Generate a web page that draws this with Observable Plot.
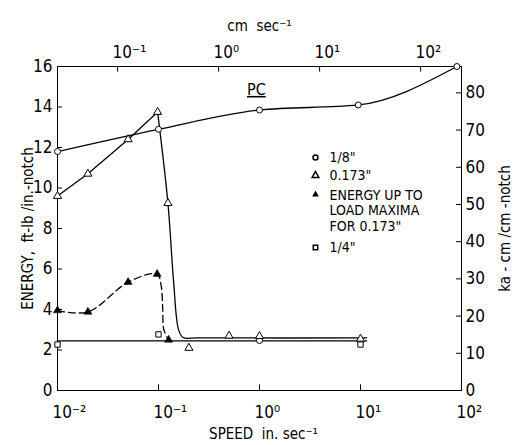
<!DOCTYPE html>
<html><head><meta charset="utf-8">
<script src="https://cdn.jsdelivr.net/npm/d3@7"></script>
<script src="https://cdn.jsdelivr.net/npm/@observablehq/plot@0.6"></script>
<style>
body{margin:0;background:#fff;}
#chart{width:515px;height:445px;}
</style></head><body><div id="chart"></div>
<script>
// ---- data (speed in in/sec, energy in ft-lb/in-notch)
const circleSpeed = [0.01, 0.1, 1, 9.5, 90];
const circleEnergy = [11.8, 12.9, 13.85, 14.1, 16.0];
const circleLowSpeed = [1, 10];
const circleLowEnergy = [2.47, 2.47];
const triSpeed = [0.01, 0.02, 0.05, 0.098, 0.124, 0.2, 0.5, 1, 10];
const triEnergy = [9.6, 10.7, 12.4, 13.75, 9.25, 2.1, 2.7, 2.68, 2.55];
const loadMaxSpeed = [0.01, 0.02, 0.05, 0.097, 0.126];
const loadMaxEnergy = [3.95, 3.88, 5.35, 5.75, 2.5];
const quarterSpeed = [0.01, 0.1, 10];
const quarterEnergy = [2.27, 2.77, 2.27];
// hand-drawn curves
const triRiseSpeed = [0.01, 0.02, 0.05, 0.098];
const triRiseEnergy = [9.6, 10.7, 12.4, 13.75];
const triFallSpeed = [0.098, 0.124, 0.141, 0.158, 0.175, 0.25, 11.5];
const triFallEnergy = [13.75, 9.25, 5.4, 3.0, 2.62, 2.6, 2.6];
const dashSpeed = [0.01, 0.02, 0.05, 0.097, 0.106, 0.110, 0.113, 0.126];
const dashEnergy = [3.95, 3.88, 5.35, 5.75, 5.2, 4.1, 3.0, 2.5];
const quarterLineSpeed = [0.01, 11.5];
const quarterLineEnergy = [2.45, 2.45];
// axes
const speedTicks = [0.01, 0.1, 1, 10, 100];
const cmTicks = [0.1, 1, 10, 100];
const energyTicks = [0, 2, 4, 6, 8, 10, 12, 14, 16];
const kgTicks = [0, 10, 20, 30, 40, 50, 60, 70, 80];
const legendLabels = ['1/8"', '0.173"', 'ENERGY UP TO\nLOAD MAXIMA\nFOR 0.173"', '1/4"'];
const pcLabel = ["PC"];
const pcPos = {x: 0.93, y: 14.85};

const C = 5.443; // ft-lb/in -> kg-cm/cm
const IN2CM = 2.54;
const supMap = {"-": "\u207B", "0": "\u2070", "1": "\u00B9", "2": "\u00B2", "3": "\u00B3"};
const pow10 = e => "10" + String(e).split("").map(c => supMap[c]).join("");

const pts = (xs, ys) => xs.map((x, i) => ({x, y: ys[i]}));
const font = "'DejaVu Sans Condensed', 'DejaVu Sans', sans-serif";

const plot = Plot.plot({
  width: 515, height: 445,
  marginLeft: 57, marginRight: 54, marginTop: 66, marginBottom: 55,
  style: {fontFamily: font, fontSize: "15px", background: "#fff", color: "#000"},
  x: {type: "log", domain: [0.01, 100], axis: null},
  y: {domain: [0, 16], axis: null},
  marks: [
    Plot.frame({stroke: "#000", strokeWidth: 1}),
    // axes (labels)
    Plot.axisX({anchor: "bottom", ticks: speedTicks, tickSize: 0, tickPadding: 15, textAnchor: "start", dx: -5,
      tickFormat: d => pow10(Math.round(Math.log10(d))), fontSize: 17, label: null}),
    Plot.text(cmTicks, {x: c => c / IN2CM, frameAnchor: "top", dy: -9, dx: -5, lineAnchor: "bottom", textAnchor: "start",
      text: c => pow10(Math.round(Math.log10(c))), fontSize: 17}),
    Plot.axisY({anchor: "left", ticks: energyTicks, tickSize: 0, tickPadding: 5, fontSize: 17, label: null}),
    Plot.axisY({anchor: "right", ticks: kgTicks.map(k => k / C), tickSize: 0, tickPadding: 4,
      tickFormat: d => String(Math.round(d * C)), fontSize: 17, label: null}),
    // inward tick marks
    Plot.ruleY(energyTicks, {x1: 0.01, x2: 0.0112, stroke: "#000"}),
    Plot.ruleY(kgTicks.map(k => k / C), {x1: 100 / 1.12, x2: 100, stroke: "#000"}),
    Plot.ruleX(speedTicks, {y1: 0, y2: 0.28, stroke: "#000"}),
    Plot.ruleX(cmTicks.map(c => c / IN2CM), {y1: 16 - 0.28, y2: 16, stroke: "#000"}),
    // axis titles
    Plot.text(["cm  sec\u207B\u00B9"], {frameAnchor: "top", dy: -46, textAnchor: "middle", fontSize: 15}),
    Plot.text(["SPEED  in. sec\u207B\u00B9"], {frameAnchor: "bottom", dy: 48, dx: 4, textAnchor: "middle", fontSize: 15}),
    Plot.text(["ENERGY,  ft-lb /in.-notch"], {frameAnchor: "left", dx: -29, rotate: -90, textAnchor: "middle", fontSize: 15}),
    Plot.text(["ka - cm /cm -notch"], {frameAnchor: "right", dx: 44, rotate: -90, textAnchor: "middle", fontSize: 15}),
    // curves
    Plot.line(pts(quarterLineSpeed, quarterLineEnergy), {x: "x", y: "y", stroke: "#000", strokeWidth: 1.3}),
    Plot.line(pts(circleSpeed, circleEnergy), {x: "x", y: "y", stroke: "#000", strokeWidth: 1.3, curve: "monotone-x"}),
    Plot.line(pts(triRiseSpeed, triRiseEnergy), {x: "x", y: "y", stroke: "#000", strokeWidth: 1.3}),
    Plot.line(pts(triFallSpeed, triFallEnergy), {x: "x", y: "y", stroke: "#000", strokeWidth: 1.3, curve: "catmull-rom"}),
    Plot.line(pts(dashSpeed, dashEnergy), {x: "x", y: "y", stroke: "#000", strokeWidth: 1.3, strokeDasharray: "7,4", curve: "catmull-rom"}),
    // symbols
    Plot.dot(pts(circleSpeed, circleEnergy), {x: "x", y: "y", r: 3, stroke: "#000", fill: "#fff", strokeWidth: 1}),
    Plot.dot(pts(circleLowSpeed, circleLowEnergy), {x: "x", y: "y", r: 3, stroke: "#000", fill: "#fff", strokeWidth: 1}),
    Plot.dot(pts(triSpeed, triEnergy), {x: "x", y: "y", r: 3, symbol: "triangle", stroke: "#000", fill: "#fff", strokeWidth: 1}),
    Plot.dot(pts(loadMaxSpeed, loadMaxEnergy), {x: "x", y: "y", r: 3, symbol: "triangle", fill: "#000", stroke: "#000", strokeWidth: 0.5}),
    Plot.dot(pts(quarterSpeed, quarterEnergy), {x: "x", y: "y", r: 3, symbol: "square", stroke: "#000", fill: "#fff", strokeWidth: 1}),
    // PC annotation
    Plot.text(pcLabel, {x: pcPos.x, y: pcPos.y, fontSize: 16}),
    // legend
    Plot.dot([0], {frameAnchor: "top-left", dx: 258, dy: 91, r: 2.5, symbol: "circle", stroke: "#000", fill: "#fff"}),
    Plot.dot([0], {frameAnchor: "top-left", dx: 258, dy: 109, r: 2.5, symbol: "triangle", stroke: "#000", fill: "#fff"}),
    Plot.dot([0], {frameAnchor: "top-left", dx: 258, dy: 128, r: 2.5, symbol: "triangle", fill: "#000"}),
    Plot.dot([0], {frameAnchor: "top-left", dx: 258, dy: 181, r: 2.5, symbol: "square", stroke: "#000", fill: "#fff"}),
    Plot.text([legendLabels[0]], {frameAnchor: "top-left", dx: 272, dy: 91, textAnchor: "start", lineAnchor: "middle", fontSize: 14}),
    Plot.text([legendLabels[1]], {frameAnchor: "top-left", dx: 272, dy: 109, textAnchor: "start", lineAnchor: "middle", fontSize: 14}),
    Plot.text([legendLabels[2]], {frameAnchor: "top-left", dx: 272, dy: 122, textAnchor: "start", lineAnchor: "top", fontSize: 14, lineHeight: 1.12}),
    Plot.text([legendLabels[3]], {frameAnchor: "top-left", dx: 272, dy: 181, textAnchor: "start", lineAnchor: "middle", fontSize: 14})
  ]
});
document.getElementById("chart").appendChild(plot);
d3.select(plot).selectAll("text").filter(function () { return this.textContent === "PC"; })
  .style("text-decoration", "underline");
</script>
</body></html>
